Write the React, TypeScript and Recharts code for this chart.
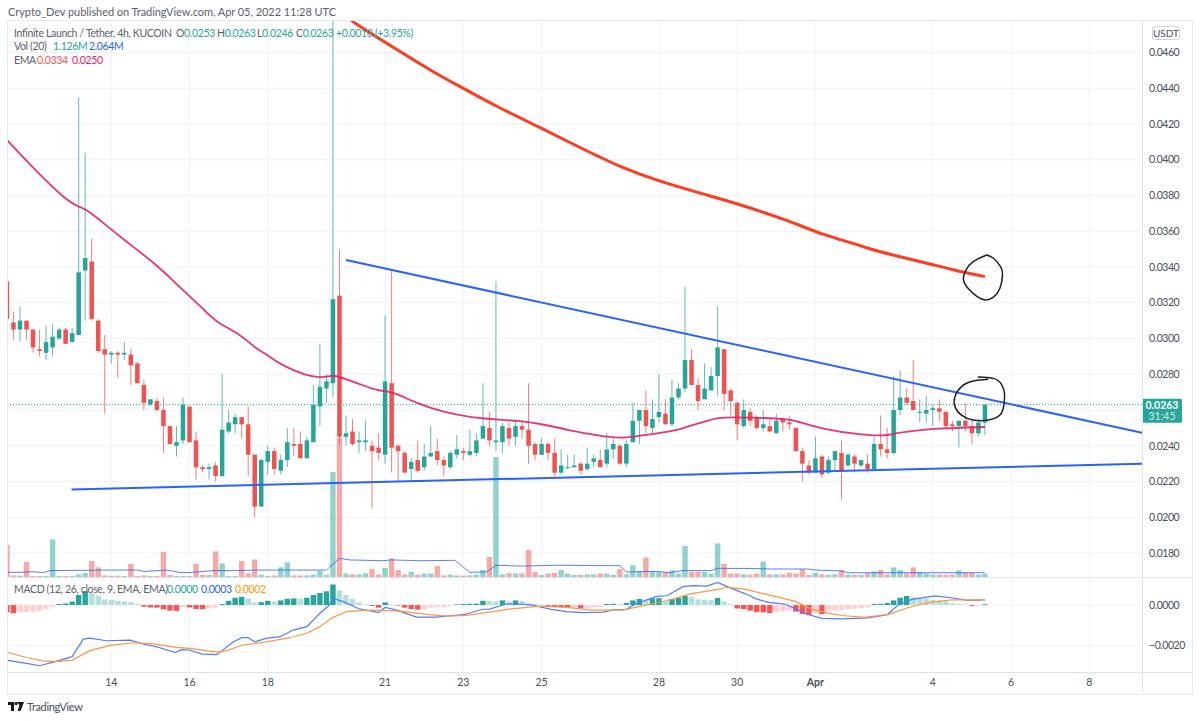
import React from 'react';
import {
  Bar,
  CartesianGrid,
  ComposedChart,
  Line,
  ReferenceLine,
  XAxis,
  YAxis
} from 'recharts';

// prices are in ticks of 0.0001, candles are 4h, index 0 = Mar 14 00:00
const FIRST_INDEX = -16;

const opens = [
  332, 309, 305, 310, 305, 294, 292, 295, 300, 305, 298, 302, 338, 343, 310, 294,
  291, 292, 291, 291, 286, 274, 263, 265, 260, 251,
  240, 243, 262, 243, 228, 227, 229, 223, 248, 252,
  256, 252, 235, 206, 231, 237, 226, 232, 241, 241,
  233, 242, 262, 272, 275, 324, 245, 248, 242, 242,
  240, 239, 235, 275, 240, 236, 227, 232, 228, 234,
  237, 232, 228, 235, 237, 235, 236, 244, 250, 242,
  242, 250, 245, 251, 249, 241, 235, 241, 236, 225,
  228, 228, 230, 227, 231, 232, 230, 238, 240, 230,
  242, 254, 260, 250, 256, 258, 252, 267, 272, 288,
  274, 266, 271, 279, 294, 271, 264, 251, 259, 256,
  250, 251, 247, 255, 253, 250, 237, 229, 225, 234,
  225, 232, 236, 229, 234, 229, 230, 227, 241, 238,
  236, 260, 267, 265, 259, 258, 260, 261, 259, 252,
  251, 254, 251, 247, 253
];

const highs = [
  332, 315, 318, 310, 305, 305, 307, 308, 306, 306, 306, 435, 404, 356, 311, 302,
  293, 293, 298, 294, 287, 277, 266, 267, 267, 251,
  251, 267, 262, 248, 229, 230, 231, 280, 260, 258,
  256, 262, 235, 233, 240, 239, 235, 250, 250, 248,
  245, 274, 297, 280, 480, 350, 257, 255, 248, 254,
  243, 247, 313, 339, 241, 237, 233, 243, 241, 251,
  244, 234, 237, 246, 239, 249, 247, 275, 259, 332,
  253, 253, 254, 254, 275, 242, 244, 242, 244, 238,
  235, 235, 231, 239, 235, 238, 247, 244, 241, 243,
  264, 260, 271, 266, 280, 266, 277, 275, 329, 294,
  278, 286, 284, 318, 294, 272, 265, 266, 261, 257,
  260, 254, 258, 256, 257, 250, 239, 232, 245, 235,
  234, 237, 243, 236, 235, 232, 235, 245, 257, 250,
  279, 282, 272, 288, 266, 268, 263, 266, 259, 254,
  254, 264, 255, 255, 263
];

const lows = [
  311, 299, 298, 299, 292, 290, 288, 290, 299, 297, 298, 302, 310, 310, 292, 258,
  286, 278, 288, 274, 275, 260, 263, 259, 236, 241,
  234, 241, 242, 221, 225, 221, 220, 223, 247, 247,
  244, 223, 200, 206, 224, 224, 224, 228, 234, 233,
  233, 242, 251, 264, 267, 241, 240, 240, 236, 237,
  205, 232, 230, 225, 220, 225, 220, 225, 226, 234,
  229, 223, 227, 233, 232, 234, 234, 244, 240, 237,
  236, 240, 240, 244, 230, 232, 235, 232, 223, 224,
  227, 228, 224, 226, 228, 228, 228, 233, 229, 228,
  242, 241, 247, 246, 253, 252, 251, 266, 270, 274,
  260, 266, 271, 268, 260, 257, 243, 250, 251, 249,
  248, 248, 247, 248, 249, 237, 220, 224, 225, 222,
  224, 226, 210, 228, 225, 228, 225, 227, 234, 233,
  235, 257, 263, 260, 253, 253, 251, 254, 249, 248,
  239, 248, 241, 245, 246
];

const closes = [
  311, 305, 310, 305, 295, 293, 298, 301, 305, 297, 303, 337, 345, 311, 293, 291,
  292, 291, 292, 285, 275, 264, 266, 260, 251, 241,
  242, 263, 242, 228, 227, 228, 223, 249, 253, 256,
  252, 235, 206, 232, 237, 227, 232, 242, 240, 233,
  243, 263, 273, 276, 322, 245, 247, 241, 243, 243,
  237, 236, 276, 239, 237, 225, 231, 226, 234, 236,
  232, 229, 236, 238, 236, 237, 243, 251, 243, 243,
  251, 244, 251, 249, 240, 235, 241, 236, 225, 229,
  228, 229, 226, 230, 233, 228, 238, 241, 230, 241,
  254, 260, 251, 255, 259, 252, 267, 272, 288, 274,
  265, 272, 279, 295, 269, 265, 252, 260, 254, 250,
  252, 248, 254, 253, 252, 237, 230, 225, 233, 224,
  232, 237, 226, 235, 230, 232, 227, 241, 238, 236,
  260, 267, 264, 260, 259, 260, 261, 259, 251, 251,
  254, 251, 247, 253, 263
];

// millions
const volumes = [
  12, 0.6, 0.5, 5.6, 0.4, 0.4, 0.4, 14.1, 0.4, 0.4, 0.4, 1, 1.5, 6, 3.6, 0.6,
  0.4, 0.5, 0.4, 4.9, 0.4, 0.6, 0.4, 0.4, 9.4, 0.8,
  0.4, 0.4, 0.4, 4.9, 0.8, 0.8, 9.6, 5.1, 0.4, 0.4,
  6, 1.4, 6.6, 0.9, 0.4, 0.6, 3.6, 5.5, 0.6, 0.6,
  0.6, 0.9, 2.3, 0.8, 39.4, 52.1, 1.3, 1, 1, 1.4,
  3, 0.9, 3.4, 7, 2.6, 0.9, 1.9, 0.9, 1.3, 1.3,
  4.1, 0.6, 0.9, 0.6, 0.5, 0.6, 0.9, 2.6, 7.5, 45,
  1, 1.4, 1.3, 1.3, 10.1, 1.9, 0.8, 1.3, 1.6, 2.6,
  1.3, 0.8, 0.8, 1, 1, 1.3, 1.3, 0.8, 3, 1,
  4.5, 2, 7.3, 2, 1.8, 1.8, 2.5, 1.3, 11.6, 2,
  2, 1.9, 1.3, 12.6, 4.9, 1.3, 1.3, 1, 0.9, 1.3,
  5.8, 1, 1, 1, 1.6, 1.3, 2.9, 0.8, 1.6, 1,
  0.8, 1, 2.6, 0.9, 0.8, 0.8, 1.4, 2.1, 2.6, 1,
  3.6, 2.6, 1.4, 3.6, 1.8, 1.3, 0.9, 0.9, 0.9, 0.9,
  2.5, 1.6, 1.6, 0.9, 1.1
];

// macd histogram, in ticks
const histogram = [
  -3.6, -4.1, -3.6, -3.5, -3.3, -2.8, -2.1, -0.8, 0.5, 0.8, 1.7, 5, 6.9, 5.8, 4.6, 2.8,
  2.5, 2.1, 1.8, 1.5, 0.5, -0.8, -1.2, -1.3, -2.1, -2.8,
  -2.9, -1, -1.2, -2, -2.1, -1.7, -1.3, 0.5, 2.1, 3.6,
  4.1, 3.3, 1.3, 1.4, 2.1, 1.7, 2.3, 3.1, 3.3, 3.1,
  3.6, 5, 6, 6.8, 10.2, 7.3, 5, 3.1, 1.3, 0.3,
  -0.5, -1.3, 1.3, 0.3, -0.3, -1.3, -2, -2.3, -2, -1.3,
  -1.2, -1, -0.5, 0.3, 0.5, 0.6, 0.7, 2.1, 2, 1.8,
  2.3, 1.7, 2.3, 2, 1, 0.5, 0.2, -0.8, -1, -1.1,
  -1.3, -1.2, -1.7, -1.3, -1, -0.9, 0.5, 0.6, 0.3, 1,
  2.3, 3, 2.6, 3.3, 3.4, 1.7, 3, 3.6, 4.6, 4.1,
  2.8, 2.5, 2.4, 3.5, 1.8, 0.3, -1.7, -2, -2.8, -3.5,
  -3.6, -4, -3.5, -3.1, -2.6, -3.3, -4.5, -5, -4.1, -4.5,
  -2.8, -2.6, -2.5, -2.1, -1.8, -1.5, -1.2, 0.5, 0.6, 1,
  2.3, 3.6, 4.5, 4, 3.3, 3.2, 2.6, 2.3, 1.8, 0.8,
  0.5, 0.3, -0.5, -0.3, 0.4
];

const emaFast: [number, number][] = [
  [-16, 411], [-12, 395.4], [-7, 377.5], [-5, 373.6], [-4, 372.7], [-1, 364], [2, 355.1], [7, 341.1],
  [10, 330.5], [11, 327.1], [14, 317], [16, 309.2], [20, 302], [22, 294.7], [24, 290.8], [26, 285.2],
  [30, 279], [32, 278.3], [33, 278.5], [34, 279.6], [36, 277.3], [38.5, 274], [41, 270.6], [43, 270.6],
  [47, 263.4], [51, 258.9], [55, 256], [58, 255], [63, 253.8], [66, 252.2], [70, 248.8], [75, 245.5],
  [78, 244.3], [80, 244.9], [83, 246.6], [86.5, 248.3], [89, 251.6], [91, 253.3], [92.5, 255.5], [95, 256],
  [98, 255.8], [104, 255], [105.5, 253.3], [109, 249.4], [115, 246], [119, 245.5], [120, 247.1], [124, 248.8],
  [127, 249.7], [134, 250.5]
];

const emaSlow: [number, number][] = [
  [36, 481], [36.9, 477.2], [42, 465.7], [49.4, 448.9], [54, 440], [59.1, 429.7], [65.7, 418.2], [71.9, 406.7],
  [78.5, 395.2], [84.2, 387.7], [91.3, 380.3], [95.9, 375.6], [103.6, 366.3], [109.2, 357.9], [113.8, 353.3],
  [115.9, 350.6], [119.1, 347.3], [125.1, 342.2], [129.1, 338.3], [134, 334.6]
];

const volumeAvg: [number, number][] = [
  [-16, 1.75], [-14, 1.75], [-12, 2], [-10.4, 1.6], [-9.4, 2.4], [0, 2.6], [4, 2.6], [5, 2.1], [8.5, 2.6],
  [10.8, 1.6], [12.6, 1.75], [15.6, 2.4], [18.7, 2.4], [22.3, 2.6], [33, 2.6], [35, 7], [36.6, 6.4], [41.7, 6.1],
  [43, 6.4], [47.3, 6.1], [52.7, 6.25], [55, 1.75], [57.6, 1.9], [59, 4.4], [63, 4.1], [68.3, 4.4], [78, 4.25],
  [79, 1.9], [83.7, 2.1], [85.7, 1.6], [87.7, 2.4], [92, 2.4], [93, 3.25], [98, 3.2], [101.3, 3], [106.9, 3],
  [108, 2.6], [112, 2.25], [113, 1.6], [134, 1.6]
];

const macdLine: [number, number][] = [
  [-16, -27.3], [-14, -28.4], [-13, -28.9], [-11, -30.1], [-9, -28.4], [-6, -25.6], [-4.3, -16.9], [-3.3, -16.4],
  [-0.7, -17.7], [2.9, -17.4], [4.9, -19.3], [7, -20.7], [9.8, -23.6], [10.8, -22.1], [12, -22.3], [13.9, -24.3],
  [16.2, -24.6], [18.7, -18.3], [20, -16.2], [21, -16.2], [22, -18.3], [23.8, -16.5], [25.9, -15.7], [27.9, -12.4],
  [30, -10.7], [32, -4.1], [33.3, -0.5], [34, 3.3], [35.6, 1.7], [37.9, -1.7], [41, -3.8], [42, -1.2], [43.8, -2.5],
  [46.8, -6], [49.9, -6], [51.4, -5.5], [54, -4.8], [57, -2.1], [58, -2], [60.6, 0.5], [62.7, 0.5], [64.7, -0.2],
  [67.3, -2], [69.8, -3.3], [72.4, -3.8], [75.5, -3.5], [77, -2.3], [79, -2.1], [80.6, 0.8], [83.7, 4.3], [85.2, 4.6],
  [87.7, 9.1], [89.3, 9.6], [91.3, 9.4], [93, 11.2], [95.4, 7.9], [98, 4.6], [98.7, 3.3], [100.8, 1.3], [103.3, 0.5],
  [105.4, -2.5], [107, -4.8], [109, -6.6], [112, -6.9], [116.1, -6.4], [119, -4.8], [120.7, 0], [122.8, 2.8],
  [126.3, 4.5], [128.9, 3.6], [131.4, 2.3], [134, 2.6]
];

const signalLine: [number, number][] = [
  [-16, -23.5], [-13, -26], [-10.4, -27.8], [-8.4, -28.1], [-6, -27.3], [-3.3, -22.6], [-0.2, -20], [3.4, -18.7],
  [6.4, -19.3], [10, -21], [12, -21.5], [16.2, -23.3], [17.7, -22.6], [20.2, -19.8], [23.8, -18.3], [27.4, -16.2],
  [30, -14], [32, -10.7], [34, -6.1], [36.1, -3.3], [38.7, -2.5], [41.7, -2.6], [44.3, -3], [48.4, -4.6], [51.4, -5.5],
  [54.5, -5.1], [58, -3.5], [61, -2], [65.8, -0.5], [70, -1.2], [73.4, -2.5], [78.5, -2.5], [81.6, -0.3], [85.7, 2.5],
  [88.8, 5.5], [93, 7.8], [94.5, 8.8], [97.2, 7.9], [100.8, 5], [104.9, 1.8], [107.4, -2], [110, -4.1], [112.5, -5.3],
  [115.6, -6.1], [119.2, -4.6], [122.3, -1.2], [125.3, 1.2], [128.9, 2.6], [134, 2.6]
];

const upperTrend: [number, number][] = [[36, 343.9], [158.1, 247.3]];
const lowerTrend: [number, number][] = [[-6.1, 215.6], [158.1, 230]];

// the two hand drawn circles
const circleTop: [number, number][] = [
  [134.1, 346.8], [135.3, 344.9], [136.4, 340.2], [136.7, 335.6], [136.3, 328.1], [135.3, 323.1], [134.1, 321.6],
  [132.8, 323.4], [131.4, 328.1], [130.7, 333.1], [131.1, 338.4], [132.2, 343], [134.1, 346.4]
];
const circleBottom: [number, number][] = [
  [134.5, 277.2], [132.2, 276.2], [130.4, 273.1], [129.4, 267.5], [129.4, 261.9], [130.4, 257.2], [132.2, 254.4],
  [134.5, 254.4], [136.3, 257.2], [136.9, 262.8], [137, 269.3], [136.5, 274.6], [135.3, 277.7], [132.9, 278.5]
];

const priceTicks = [180, 200, 220, 240, 260, 280, 300, 320, 340, 360, 380, 400, 420, 440, 460];
const macdTicks = [0, -20];
const dayTicks = [0, 12, 24, 42, 54, 66, 84, 96, 108, 126, 138, 150];
const dayLabels = ['14', '16', '18', '21', '23', '25', '28', '30', 'Apr', '4', '6', '8'];

const rows = opens.map((open, n) => ({
  i: FIRST_INDEX + n,
  n,
  open,
  high: highs[n],
  low: lows[n],
  close: closes[n],
  range: [lows[n], highs[n]],
  volume: volumes[n],
  hist: histogram[n]
}));

const toPoints = (list: [number, number][]) => list.map(([i, v]) => ({ i, v }));

const UP = '#26a69a';
const DOWN = '#ef5350';
const BLUE = '#2962ff';
const GRID = '#f0f3fa';
const FONT = 'Lato, sans-serif';
const X_DOMAIN: [number, number] = [-15.84, 158.09];
const NUM_STYLE = { fontSize: 10.5, fontFamily: FONT, letterSpacing: -0.45 };

const histColor = (n: number) => {
  const value = histogram[n];
  const prev = n > 0 ? histogram[n - 1] : value;
  if (value >= 0) return value >= prev ? UP : '#b2dfdb';
  return value <= prev ? '#ff5252' : '#ffcdd2';
};

// the number axis gives a very small band, so marks take only their centre from it
const Candle = (props: any) => {
  const { x, y, width, height, payload } = props;
  if (payload == null) return null;
  const color = payload.close >= payload.open ? UP : DOWN;
  const perTick = height / (payload.high - payload.low);
  const top = y + (payload.high - Math.max(payload.open, payload.close)) * perTick;
  const bodyHeight = Math.max(1, Math.abs(payload.open - payload.close) * perTick);
  const cx = x + width / 2;
  return (
    <g>
      <line x1={cx} x2={cx} y1={y} y2={y + height} stroke={color} strokeOpacity={0.75} />
      <rect x={cx - 2.25} y={top} width={4.5} height={bodyHeight} fill={color} />
    </g>
  );
};

const VolumeBar = (props: any) => {
  const { x, y, width, height, payload } = props;
  const color = payload.close >= payload.open ? UP : DOWN;
  return <rect x={x + width / 2 - 2.7} y={y} width={5.4} height={height} fill={color} fillOpacity={0.5} />;
};

const HistBar = (props: any) => {
  const { x, y, width, height, payload } = props;
  return <rect x={x + width / 2 - 2.7} y={Math.min(y, y + height)} width={5.4} height={Math.abs(height)} fill={histColor(payload.n)} />;
};

const PriceTag = (props: any) => {
  const { viewBox } = props;
  if (!viewBox) return null;
  const left = viewBox.x + viewBox.width;
  return (
    <g fontFamily={FONT} fontSize={10.5} textAnchor="middle">
      <rect x={left} y={viewBox.y - 6} width={40} height={24} fill={UP} rx={1} />
      <text x={left + 20} y={viewBox.y + 4} fill="#fff" fontWeight={700}>0.0263</text>
      <text x={left + 20} y={viewBox.y + 15} fill="#d4eeeb">31:45</text>
    </g>
  );
};

const DayTick = (props: any) => {
  const { x, y, payload } = props;
  const label = dayLabels[dayTicks.indexOf(payload.value)];
  return (
    <text x={x} y={y + 6} textAnchor="middle" fontFamily={FONT} fontSize={10.5} fontWeight={label === 'Apr' ? 700 : 400} fill="#4a4e59">
      {label}
    </text>
  );
};

const Txt = ({ x, y, color = '#5d606b', size = 10.5, spacing = -0.35, children }: any) => (
  <span style={{ position: 'absolute', left: x, top: y - 8, lineHeight: '16px', fontSize: size, letterSpacing: spacing, color, whiteSpace: 'nowrap' }}>
    {children}
  </span>
);

const Pane = ({ top, height, children }: any) => (
  <div style={{ position: 'absolute', left: 8, top, width: 1184, height }}>{children}</div>
);

export default function App() {
  return (
    <div style={{ position: 'absolute', left: 0, top: 0, width: 1200, height: 721, background: '#fff', fontFamily: FONT, overflow: 'hidden' }}>
      <Pane top={21} height={556}>
        <ComposedChart width={1184} height={556} data={rows} margin={{ top: 0, right: 0, bottom: 0, left: 0 }}>
          <CartesianGrid stroke={GRID} horizontalValues={priceTicks} verticalValues={dayTicks} />
          <XAxis dataKey="i" type="number" domain={X_DOMAIN} ticks={dayTicks} allowDataOverflow hide />
          <XAxis xAxisId="vol" dataKey="i" type="number" domain={X_DOMAIN} ticks={dayTicks} allowDataOverflow hide />
          <YAxis
            orientation="right"
            width={50}
            domain={[166.6, 477.6]}
            ticks={priceTicks}
            allowDataOverflow
            tickLine={false}
            tickSize={0}
            axisLine={false}
            tickMargin={7}
            interval={0}
            tick={{ ...NUM_STYLE, fill: '#4a4e59' }}
            tickFormatter={(v: number) => (v === 260 ? '' : (v / 10000).toFixed(4))}
          />
          <YAxis yAxisId="vol" hide domain={[0, 208.5]} allowDataOverflow />
          <Bar xAxisId="vol" yAxisId="vol" dataKey="volume" shape={<VolumeBar />} isAnimationActive={false} />
          <Line xAxisId="vol" yAxisId="vol" data={toPoints(volumeAvg)} dataKey="v" stroke={BLUE} strokeOpacity={0.8} strokeWidth={1} dot={false} isAnimationActive={false} />
          <ReferenceLine y={263} stroke={UP} strokeDasharray="1 2" label={<PriceTag />} />
          <Bar dataKey="range" shape={<Candle />} isAnimationActive={false} />
          <Line data={toPoints(emaFast)} dataKey="v" type="basis" stroke="#e91e63" strokeOpacity={0.9} strokeWidth={1.8} dot={false} isAnimationActive={false} />
          <Line data={toPoints(emaSlow)} dataKey="v" type="basis" stroke="#ff3b21" strokeWidth={3} dot={false} isAnimationActive={false} />
          <Line data={toPoints(upperTrend)} dataKey="v" stroke={BLUE} strokeWidth={2} dot={false} isAnimationActive={false} />
          <Line data={toPoints(lowerTrend)} dataKey="v" stroke={BLUE} strokeWidth={2} dot={false} isAnimationActive={false} />
          <Line data={toPoints(circleTop)} dataKey="v" type="natural" stroke="#1f1f1f" strokeWidth={1.5} dot={false} isAnimationActive={false} />
          <Line data={toPoints(circleBottom)} dataKey="v" type="natural" stroke="#1f1f1f" strokeWidth={1.5} dot={false} isAnimationActive={false} />
        </ComposedChart>
      </Pane>

      <Pane top={577} height={116}>
        <ComposedChart width={1184} height={116} data={rows} margin={{ top: 0, right: 0, bottom: 0, left: 0 }}>
          <CartesianGrid stroke={GRID} horizontalValues={macdTicks} verticalValues={dayTicks} />
          <XAxis
            dataKey="i"
            type="number"
            domain={X_DOMAIN}
            ticks={dayTicks}
            interval={0}
            allowDataOverflow
            height={21}
            tickLine={false}
            axisLine={false}
            tick={<DayTick />}
          />
          <YAxis
            orientation="right"
            width={50}
            domain={[-33.2, 13.9]}
            ticks={macdTicks}
            allowDataOverflow
            tickLine={false}
            tickSize={0}
            axisLine={false}
            tickMargin={7}
            interval={0}
            tick={{ ...NUM_STYLE, fill: '#4a4e59' }}
            tickFormatter={(v: number) => (v === 0 ? '0.0000' : '\u2212' + (Math.abs(v) / 10000).toFixed(4))}
          />
          <Bar dataKey="hist" shape={<HistBar />} isAnimationActive={false} />
          <Line data={toPoints(macdLine)} dataKey="v" stroke="#4f7dff" strokeWidth={1.2} dot={false} isAnimationActive={false} />
          <Line data={toPoints(signalLine)} dataKey="v" stroke="#ff9642" strokeWidth={1.2} dot={false} isAnimationActive={false} />
        </ComposedChart>
      </Pane>

      {/* frame and pane separators */}
      <div style={{ position: 'absolute', left: 7, top: 20, width: 1184, height: 673, border: '1px solid #e6e9f0', boxSizing: 'content-box' }} />
      <div style={{ position: 'absolute', left: 8, top: 577, width: 1184, height: 1, background: '#e0e3eb' }} />
      <div style={{ position: 'absolute', left: 8, top: 672, width: 1184, height: 1, background: '#e0e3eb' }} />
      <div style={{ position: 'absolute', left: 1142, top: 21, width: 1, height: 672, background: '#e0e3eb' }} />

      <div style={{ position: 'absolute', left: 1152, top: 26, width: 28, height: 14, boxSizing: 'border-box', border: '1px solid #d1d4dc', borderRadius: 3, fontSize: 10, lineHeight: '12px', textAlign: 'center', color: '#4a4e59', background: '#fff' }}>
        USDT
      </div>

      <Txt x={8} y={12} size={11} spacing={-0.05}>Crypto_Dev published on TradingView.com, Apr 05, 2022 11:28 UTC</Txt>

      <Txt x={14} y={33}>Infinite Launch / Tether, 4h, KUCOIN</Txt>
      <Txt x={176} y={33}>O<span style={{ color: UP }}>0.0253</span></Txt>
      <Txt x={217} y={33}>H<span style={{ color: UP }}>0.0263</span></Txt>
      <Txt x={257} y={33}>L<span style={{ color: UP }}>0.0246</span></Txt>
      <Txt x={296} y={33}>C<span style={{ color: UP }}>0.0263</span></Txt>
      <Txt x={336} y={33} color={UP}>+0.0010 (+3.95%)</Txt>

      <Txt x={14} y={46}>Vol (20)</Txt>
      <Txt x={53} y={46} color={UP}>1.126M</Txt>
      <Txt x={89} y={46} color={BLUE}>2.064M</Txt>

      <Txt x={14} y={60}>EMA</Txt>
      <Txt x={37} y={60} color="#ff5252">0.0334</Txt>
      <Txt x={72} y={60} color="#e91e63">0.0250</Txt>

      <Txt x={14} y={589}>MACD (12, 26, close, 9, EMA, EMA)</Txt>
      <Txt x={167} y={589} color={UP}>0.0000</Txt>
      <Txt x={201} y={589} color={BLUE}>0.0003</Txt>
      <Txt x={235} y={589} color="#ff9800">0.0002</Txt>

      <svg style={{ position: 'absolute', left: 8, top: 702 }} width={16} height={10} viewBox="0 0 16 10">
        <path d="M0 0h6v9H3V3H0z M9 0h7l-3.5 9H9.5l2-5.5z" fill="#131722" />
        <circle cx={8} cy={1.6} r={1.6} fill="#131722" />
      </svg>
      <Txt x={27} y={707} size={11} color="#4a4e59">TradingView</Txt>
    </div>
  );
}
